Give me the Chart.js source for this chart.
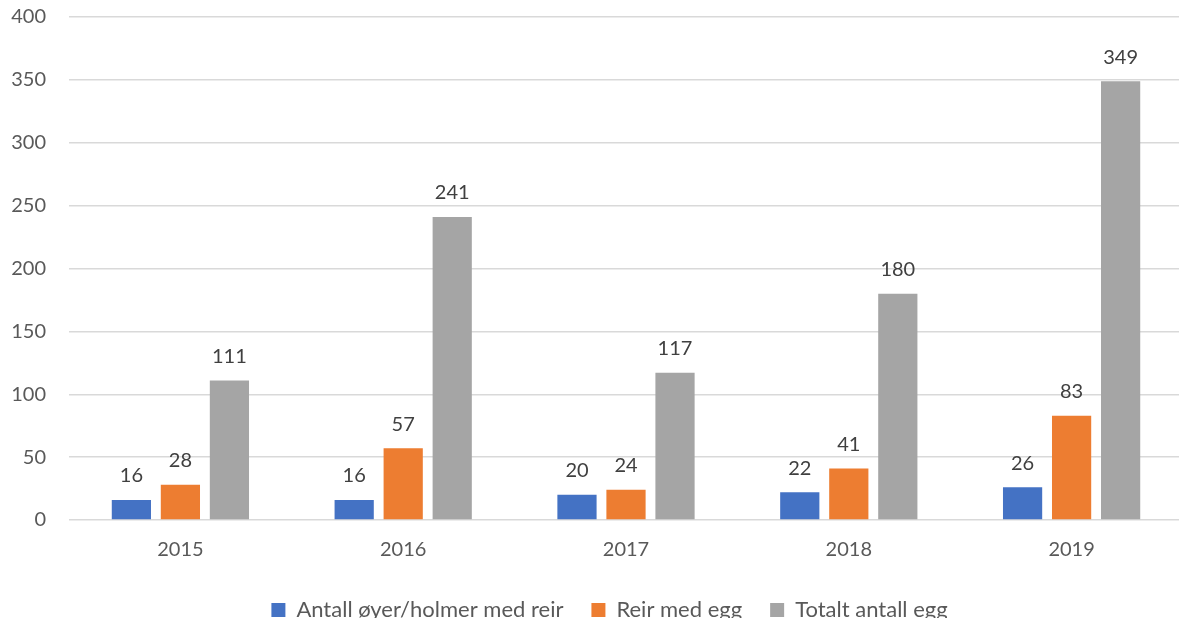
<!DOCTYPE html>
<html>
<head>
<meta charset="utf-8">
<script src="https://cdn.jsdelivr.net/npm/chart.js@4.4.1/dist/chart.umd.min.js"></script>
<style>
    html, body { margin: 0; padding: 0; background: #ffffff; }
    #frame { width: 1179px; height: 618px; position: relative; overflow: hidden; }
    #wrap { width: 1183px; height: 636px; position: absolute; left: 0; top: -18px; }
</style>
</head>
<body>
<div id="frame"><div id="wrap"><canvas id="myChart"></canvas></div></div>
<script>
let years = ['2015', '2016', '2017', '2018', '2019']
let islandsWithNests = [16, 16, 20, 22, 26]
let nestsWithEggs = [28, 57, 24, 41, 83]
let totalEggs = [111, 241, 117, 180, 349]
let seriesNames = ['Antall øyer/holmer med reir', 'Reir med egg', 'Totalt antall egg']
let yTicks = [0, 50, 100, 150, 200, 250, 300, 350, 400]

let fontName = 'Lato, "Open Sans", sans-serif'

// draws the value over each bar
let valueLabels = {
    id: 'valueLabels',
    afterDatasetsDraw(chart){
        let ctx = chart.ctx
        ctx.save()
        ctx.font = '20px ' + fontName
        ctx.fillStyle = '#404040'
        ctx.textAlign = 'center'
        ctx.textBaseline = 'bottom'
        chart.data.datasets.forEach(function (ds, i){
            let meta = chart.getDatasetMeta(i)
            meta.data.forEach(function (bar, j){
                ctx.fillText(ds.data[j], bar.x, bar.y - 14)
            })
        })
        ctx.restore()
    }
}

// the legend sits a bit right of centre in the original
let legendShift = {
    id: 'legendShift',
    afterLayout(chart){
        chart.legend.left += 18
        chart.legend.right += 18
    }
}

let ctx = document.getElementById('myChart').getContext('2d')
let chart = new Chart(ctx, {
    type: 'bar',
    data: {
        labels: years,
        datasets: [
            { label: seriesNames[0], data: islandsWithNests, backgroundColor: '#4472C4' },
            { label: seriesNames[1], data: nestsWithEggs, backgroundColor: '#ED7D31' },
            { label: seriesNames[2], data: totalEggs, backgroundColor: '#A5A5A5' }
        ]
    },
    options: {
        responsive: true,
        maintainAspectRatio: false,
        animation: false,
        layout: { padding: { top: 0, right: 0, bottom: -13, left: 0 } },
        datasets: {
            bar: { categoryPercentage: 0.66, barPercentage: 0.8 }
        },
        scales: {
            x: {
                grid: { display: false, drawTicks: false },
                border: { display: false },
                ticks: { color: '#595959', font: { family: fontName, size: 20 }, padding: 18 },
                afterFit(scale){ scale.height = 51 }
            },
            y: {
                min: 0,
                max: 400,
                afterBuildTicks(scale){ scale.ticks = yTicks.map(v => ({ value: v })) },
                grid: { color: '#D9D9D9', lineWidth: 1.5, drawTicks: false },
                border: { display: false },
                ticks: { color: '#595959', font: { family: fontName, size: 20 }, padding: 23 },
                afterFit(scale){ scale.width = 69 }
            }
        },
        plugins: {
            legend: {
                position: 'bottom',
                labels: {
                    color: '#595959',
                    font: { family: fontName, size: 22 },
                    boxWidth: 14,
                    boxHeight: 14,
                    padding: 28
                }
            },
            tooltip: { enabled: false }
        }
    },
    plugins: [valueLabels, legendShift]
})
</script>
</body>
</html>
